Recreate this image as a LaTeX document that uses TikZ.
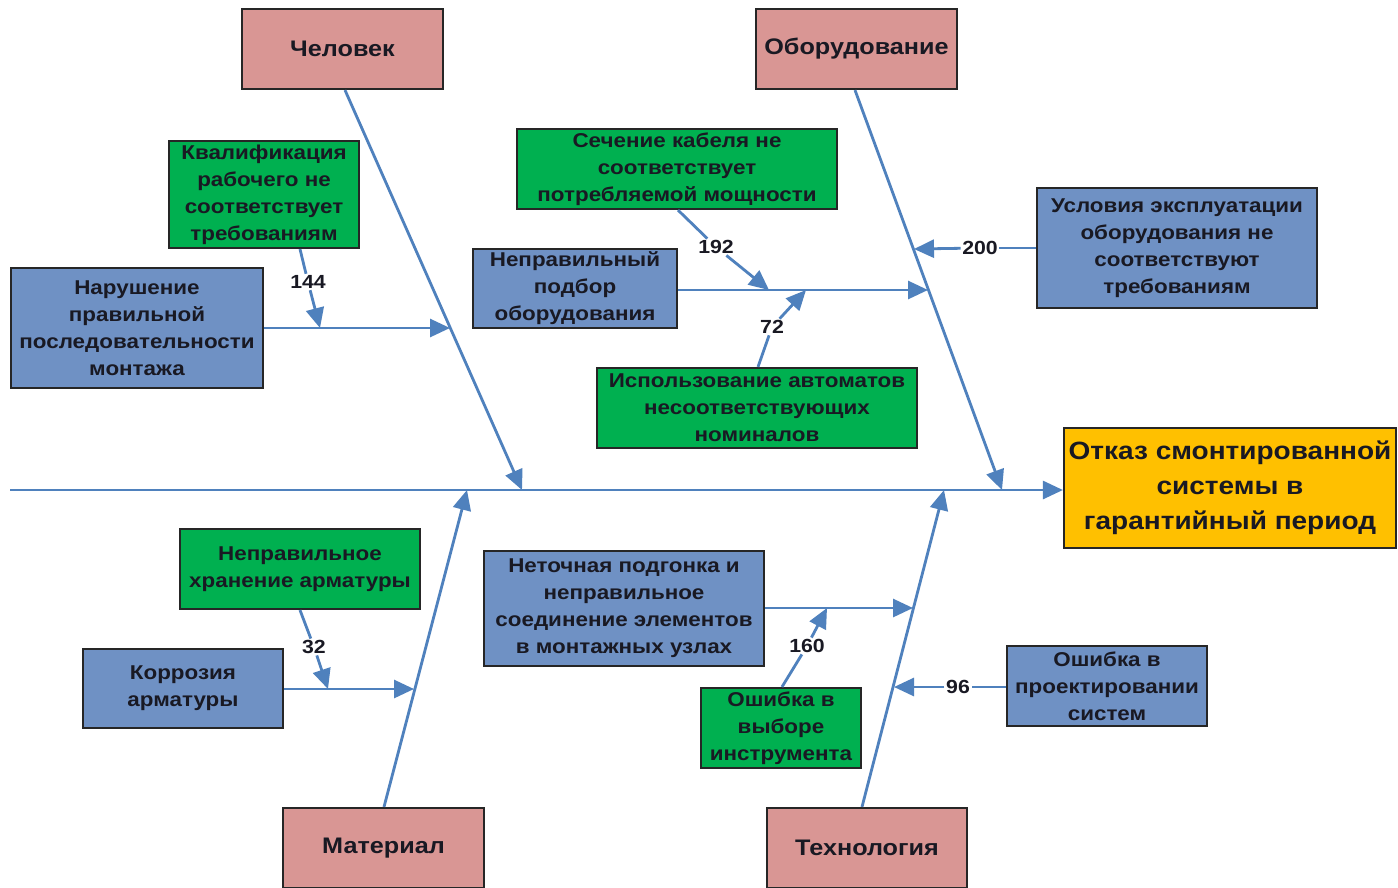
\documentclass[tikz,border=0pt]{standalone}
\usepackage{fontspec}
\setmainfont{Liberation Sans}[FakeStretch=1.12]
\usetikzlibrary{arrows.meta}
\definecolor{pinkc}{RGB}{217,150,148}
\definecolor{greenc}{RGB}{0,176,80}
\definecolor{bluec}{RGB}{111,145,196}
\definecolor{orc}{RGB}{255,192,0}
\definecolor{linec}{RGB}{79,129,189}
\definecolor{txt}{RGB}{25,25,35}
\tikzset{
  box/.style={draw=black!85, line width=2.2pt, align=center, inner sep=0pt, text=txt,
     font=\bfseries\fontsize{20}{27}\selectfont},
  catbox/.style={box, fill=pinkc, font=\bfseries\fontsize{22.5}{27}\selectfont},
  gbox/.style={box, fill=greenc},
  bbox/.style={box, fill=bluec},
  obox/.style={box, fill=orc, font=\bfseries\fontsize{25}{35}\selectfont},
  ln/.style={draw=linec, line width=2.8pt},
  arr/.style={ln, -{Triangle[length=20pt,width=18pt]}},
  num/.style={font=\bfseries\fontsize{19}{20}\selectfont, text=txt, inner sep=1.5pt},
}
\begin{document}
\begin{tikzpicture}[x=1pt,y=-1pt]
\useasboundingbox (0,0) rectangle (1398,887);
\fill[white] (0,0) rectangle (1398,887);
% boxes
\node[catbox, minimum width=201, minimum height=80] (chel) at (342.5,49) {Человек};
\node[catbox, minimum width=201, minimum height=80] (obor) at (856.5,49) {Оборудование};
\node[catbox, minimum width=201, minimum height=80] (mat) at (383.5,848) {Материал};
\node[catbox, minimum width=200, minimum height=80] (tech) at (867,848) {Технология};
\node[gbox, minimum width=190, minimum height=107] (kval) at (264,194.5) {Квалификация\\рабочего не\\соответствует\\требованиям};
\node[bbox, minimum width=252, minimum height=120] (nar) at (137,328) {Нарушение\\правильной\\последовательности\\монтажа};
\node[gbox, minimum width=320, minimum height=80] (sech) at (677,169) {Сечение кабеля не\\соответствует\\потребляемой мощности};
\node[bbox, minimum width=204, minimum height=79] (npod) at (575,288.5) {Неправильный\\подбор\\оборудования};
\node[gbox, minimum width=320, minimum height=80] (isp) at (757,408) {Использование автоматов\\несоответствующих\\номиналов};
\node[bbox, minimum width=280, minimum height=120] (usl) at (1177,248) {Условия эксплуатации\\оборудования не\\соответствуют\\требованиям};
\node[obox, minimum width=332, minimum height=120] (otk) at (1230,488) {Отказ смонтированной\\системы в\\гарантийный период};
\node[gbox, minimum width=240, minimum height=80] (hran) at (300,569) {Неправильное\\хранение арматуры};
\node[bbox, minimum width=200, minimum height=79] (korr) at (183,688.5) {Коррозия\\арматуры};
\node[bbox, minimum width=280, minimum height=115] (neto) at (624,608.5) {Неточная подгонка и\\неправильное\\соединение элементов\\в монтажных узлах};
\node[gbox, minimum width=160, minimum height=80] (vyb) at (781,728) {Ошибка в\\выборе\\инструмента};
\node[bbox, minimum width=200, minimum height=80] (proj) at (1107,686) {Ошибка в\\проектировании\\систем};
% spine
\coordinate (sp0) at (10,490);
\draw[arr] (sp0) -- (otk.west |- sp0);
% bone tips
\coordinate (tchel) at (522,490);
\coordinate (tobor) at (1002,490);
\coordinate (tmat) at (467,490);
\coordinate (ttech) at (944,490);
\draw[arr] ([xshift=2.5pt]chel.south) -- (tchel);
\draw[arr] ([xshift=-1.5pt]obor.south) -- (tobor);
\draw[arr] ([xshift=0.5pt]mat.north) -- (tmat);
\draw[arr] ([xshift=-5pt]tech.north) -- (ttech);
% sub-cause tips
\coordinate (tnar) at (450,328);
\coordinate (tnpod) at (928,290);
\coordinate (tusl) at (914,249);
\coordinate (tkorr) at (414,689);
\coordinate (tneto) at (913,608);
\coordinate (tproj) at (894,687);
\draw[arr] (nar.east |- tnar) -- (tnar);
\draw[arr] (npod.east |- tnpod) -- (tnpod);
\draw[arr] (korr.east |- tkorr) -- (tkorr);
\draw[arr] (neto.east |- tneto) -- (tneto);
% numbered links
\node[num] (l144) at (308,282) {144};
\coordinate (t144) at (320,328);
\draw[ln] ([xshift=36pt]kval.south) -- (l144);
\draw[arr] (l144) -- (t144);
\node[num] (l192) at (716,247) {192};
\coordinate (t192) at (769,290);
\draw[ln] ([xshift=1pt]sech.south) -- (l192);
\draw[arr] (l192) -- (t192);
\node[num] (l72) at (772,327) {72};
\coordinate (t72) at (806,290);
\draw[ln] ([xshift=1pt]isp.north) -- (l72);
\draw[arr] (l72) -- (t72);
\node[num] (l200) at (980,248) {200};
\draw[ln] (usl.west |- l200) -- (l200);
\draw[arr] (l200) -- (tusl);
\node[num] (l32) at (314,647) {32};
\coordinate (t32) at (328,689);
\draw[ln] (hran.south) -- (l32);
\draw[arr] (l32) -- (t32);
\node[num] (l160) at (807,646) {160};
\coordinate (t160) at (827,608);
\draw[ln] ([xshift=1pt]vyb.north) -- (l160);
\draw[arr] (l160) -- (t160);
\node[num] (l96) at (958,687) {96};
\draw[ln] (proj.west |- l96) -- (l96);
\draw[arr] (l96) -- (tproj);
\end{tikzpicture}
\end{document}
